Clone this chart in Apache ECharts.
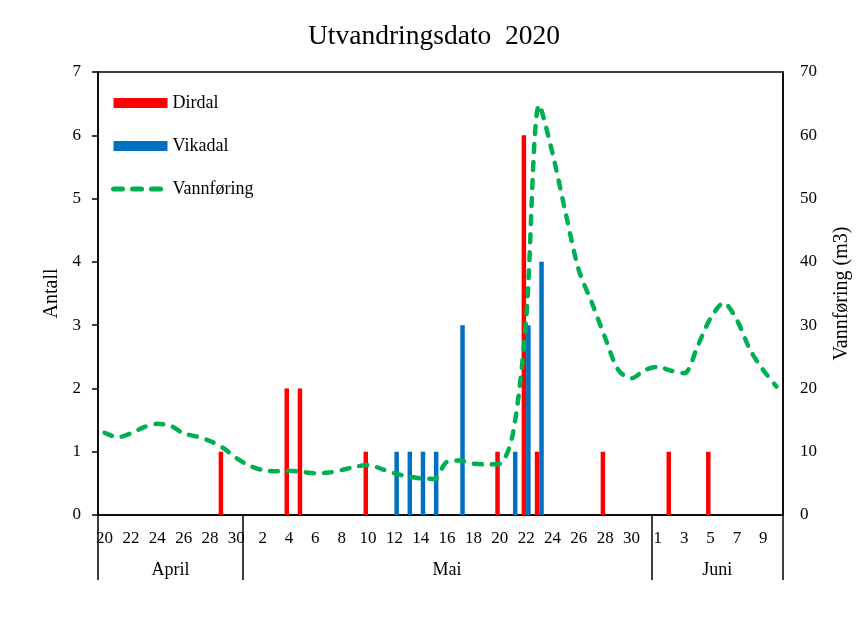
<!DOCTYPE html>
<html>
<head>
<meta charset="utf-8">
<script src="https://cdn.jsdelivr.net/npm/echarts@6/dist/echarts.min.js"></script>
<style>html,body{margin:0;padding:0;background:#fff}#c{width:868px;height:634px}</style>
</head>
<body>
<div id="c"></div>
<script>
// Dates 20 April - 10 June 2020
const dates = [
  '2020-04-20','2020-04-21','2020-04-22','2020-04-23','2020-04-24','2020-04-25','2020-04-26','2020-04-27','2020-04-28','2020-04-29','2020-04-30',
  '2020-05-01','2020-05-02','2020-05-03','2020-05-04','2020-05-05','2020-05-06','2020-05-07','2020-05-08','2020-05-09','2020-05-10',
  '2020-05-11','2020-05-12','2020-05-13','2020-05-14','2020-05-15','2020-05-16','2020-05-17','2020-05-18','2020-05-19','2020-05-20',
  '2020-05-21','2020-05-22','2020-05-23','2020-05-24','2020-05-25','2020-05-26','2020-05-27','2020-05-28','2020-05-29','2020-05-30','2020-05-31',
  '2020-06-01','2020-06-02','2020-06-03','2020-06-04','2020-06-05','2020-06-06','2020-06-07','2020-06-08','2020-06-09','2020-06-10'
];
const monthNames = {'04':'April','05':'Mai','06':'Juni'};
// Antall per day
const dirdal = [
  0,0,0,0,0,0,0,0,0,1,0,
  0,0,0,2,2,0,0,0,0,1,
  0,0,0,0,0,0,0,0,0,1,
  0,6,1,0,0,0,0,1,0,0,0,
  0,1,0,0,1,0,0,0,0,0
];
const vikadal = [
  0,0,0,0,0,0,0,0,0,0,0,
  0,0,0,0,0,0,0,0,0,0,
  0,1,1,1,1,0,3,0,0,0,
  1,3,4,0,0,0,0,0,0,0,0,
  0,0,0,0,0,0,0,0,0,0
];
// Vannføring (m3)
const vannforing = [
  13.0,12.3,12.9,13.9,14.4,14.1,12.9,12.4,11.7,10.6,9.0,
  7.8,7.1,6.9,7.0,6.8,6.6,6.7,7.1,7.6,7.9,
  7.3,6.6,6.1,5.8,5.7,8.4,8.6,8.1,8.0,8.1,
  12.9,30.8,64.8,57.2,47.7,38.7,33.5,28.0,22.9,21.6,22.9,
  23.4,22.8,22.4,26.6,31.1,33.5,30.8,26.1,22.9,20.3
];
const leftTicks = {min:0, max:7, interval:1};
const rightTicks = {min:0, max:70, interval:10};

// month boundaries and centres derived from dates
const monthOf = d => d.slice(5,7);
const bounds = [0];
for (let i = 1; i < dates.length; i++) if (monthOf(dates[i]) !== monthOf(dates[i-1])) bounds.push(i);
bounds.push(dates.length);
const centres = [], centreNames = [];
for (let k = 0; k < bounds.length - 1; k++) {
  centres.push((bounds[k] + bounds[k+1]) / 2);
  centreNames.push(monthNames[monthOf(dates[bounds[k]])]);
}

const FONT = 'Liberation Serif';
const GREEN = '#00B050';
const chart = echarts.init(document.getElementById('c'));
chart.setOption({
  backgroundColor: '#fff',
  animation: false,
  title: {
    text: 'Utvandringsdato  2020', left: 'center', top: 18,
    textStyle: {fontFamily: FONT, fontSize: 27.5, fontWeight: 'normal', color: '#000'}
  },
  legend: {
    orient: 'vertical', left: 106, top: 89, itemGap: 25, itemWidth: 54, itemHeight: 10,
    textStyle: {fontFamily: FONT, fontSize: 18, color: '#000'},
    data: [
      {name:'Dirdal', icon:'rect'},
      {name:'Vikadal', icon:'rect'},
      {name:'Vannføring', itemStyle: {opacity: 0},
       lineStyle: {color: GREEN, width: 5, type: [9, 10], cap: 'round'}}
    ]
  },
  grid: {left: 98, right: 85, top: 72, bottom: 119, show: true, borderColor: '#000', borderWidth: 1.5, backgroundColor: 'transparent'},
  xAxis: [{
    type: 'category', data: dates, boundaryGap: true,
    axisLine: {lineStyle: {color: '#000', width: 1.5}},
    axisTick: {show: false},
    axisLabel: {interval: 1, margin: 15, fontFamily: FONT, fontSize: 17, color: '#000',
      formatter: v => String(parseInt(v.slice(8,10), 10))}
  }, {
    type: 'value', position: 'bottom', min: 0, max: dates.length,
    axisLine: {show: false},
    splitLine: {show: false},
    axisTick: {show: true, inside: false, length: 65, customValues: bounds, lineStyle: {color: '#000', width: 1.5}},
    axisLabel: {show: true, margin: 46, customValues: centres, fontFamily: FONT, fontSize: 18, color: '#000',
      formatter: v => { const i = centres.indexOf(v); return i >= 0 ? centreNames[i] : ''; }}
  }],
  yAxis: [{
    type: 'value', min: leftTicks.min, max: leftTicks.max, interval: leftTicks.interval,
    name: 'Antall', nameLocation: 'middle', nameGap: 35, nameRotate: 90,
    nameTextStyle: {fontFamily: FONT, fontSize: 20, color: '#000'},
    axisLine: {show: true, lineStyle: {color: '#000', width: 1.5}},
    axisTick: {show: true, length: 6, lineStyle: {color: '#000', width: 1.5}},
    splitLine: {show: false},
    axisLabel: {margin: 17, fontFamily: FONT, fontSize: 17, color: '#000'}
  }, {
    type: 'value', min: rightTicks.min, max: rightTicks.max, interval: rightTicks.interval,
    name: 'Vannføring (m3)', nameLocation: 'middle', nameGap: 49, nameRotate: 90,
    nameTextStyle: {fontFamily: FONT, fontSize: 20, color: '#000'},
    axisLine: {show: true, lineStyle: {color: '#000', width: 1.5}},
    axisTick: {show: false},
    splitLine: {show: false},
    axisLabel: {margin: 17, fontFamily: FONT, fontSize: 17, color: '#000'}
  }],
  series: [{
    name: 'Dirdal', type: 'bar', data: dirdal.map(v => v || null), barWidth: 4.5, barGap: '0%',
    itemStyle: {color: '#FF0000'}
  }, {
    name: 'Vikadal', type: 'bar', data: vikadal.map(v => v || null), barWidth: 4.5, barGap: '0%',
    itemStyle: {color: '#0070C0'}
  }, {
    name: 'Vannføring', type: 'line', yAxisIndex: 1, data: vannforing, smooth: 0.3,
    symbol: 'none', z: 5,
    lineStyle: {color: GREEN, width: 4.5, type: [8, 10], cap: 'round'},
    itemStyle: {color: GREEN}
  }]
});
</script>
</body>
</html>
